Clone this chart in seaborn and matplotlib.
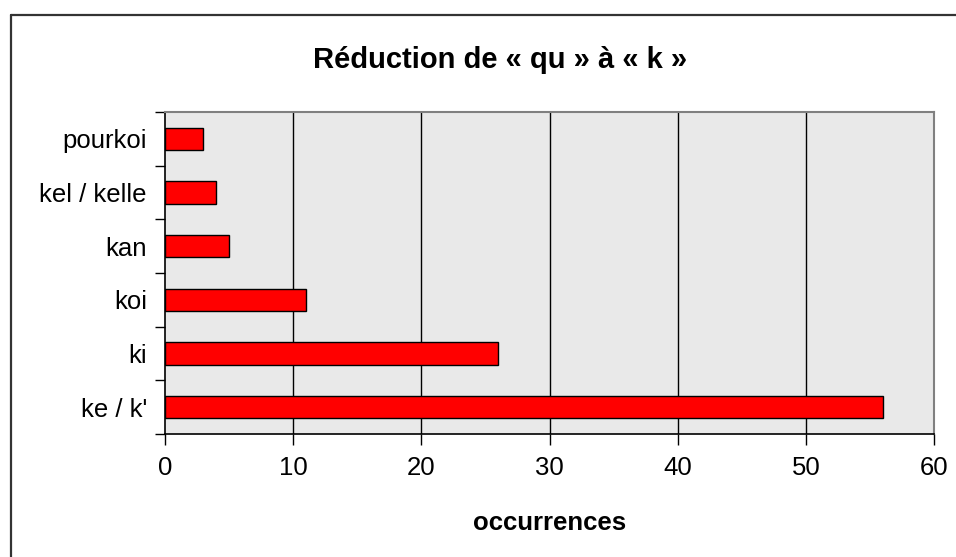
import matplotlib
matplotlib.use("Agg")
import matplotlib.pyplot as plt
import seaborn as sns
import pandas as pd
from matplotlib.lines import Line2D
from matplotlib.ticker import FixedLocator

# ----------------------------------------------------------
# DATA
# ----------------------------------------------------------
forms = ["pourkoi", "kel / kelle", "kan", "koi", "ki", "ke / k'"]
occurrences = [3, 4, 5, 11, 26, 56]
x_ticks = [0, 10, 20, 30, 40, 50, 60]

df = pd.DataFrame({"form": forms, "occurrences": occurrences})

# ----------------------------------------------------------
# STYLE
# ----------------------------------------------------------
sns.set_style("white")
plt.rcParams["font.family"] = ["Liberation Sans", "DejaVu Sans"]
plt.rcParams["text.color"] = "black"
plt.rcParams["axes.labelcolor"] = "black"
plt.rcParams["xtick.color"] = "black"
plt.rcParams["ytick.color"] = "black"

fig = plt.figure(figsize=(9.56, 5.57), dpi=100)
ax = fig.add_axes([165 / 956, 1 - 434 / 557, (934 - 165) / 956, (434 - 112) / 557])
ax.set_facecolor("#e9e9e9")

sns.barplot(
    data=df,
    x="occurrences",
    y="form",
    orient="h",
    color="#ff0000",
    edgecolor="black",
    linewidth=1.0,
    width=0.42,
    saturation=1,
    ax=ax,
)

# ----------------------------------------------------------
# AXES
# ----------------------------------------------------------
ax.set_xlim(0, 60)
ax.set_ylim(len(forms) - 0.5, -0.5)
ax.set_xticks(x_ticks)
ax.set_xticklabels([str(t) for t in x_ticks])
ax.tick_params(axis="x", direction="out", length=8, width=1,
               pad=8, labelsize=18.5, bottom=True)
ax.tick_params(axis="y", which="major", length=0, pad=13, labelsize=18.5)
ax.yaxis.set_minor_locator(FixedLocator([i + 0.5 for i in range(-1, len(forms))]))
ax.tick_params(axis="y", which="minor", direction="out", length=7, width=1,
               left=True)

for xv in x_ticks[1:-1]:
    ax.axvline(xv, color="black", linewidth=1.0, zorder=0.5)

for side in ["left", "bottom"]:
    ax.spines[side].set_color("black")
    ax.spines[side].set_linewidth(1.2)
for side in ["top", "right"]:
    ax.spines[side].set_color("#808080")
    ax.spines[side].set_linewidth(1.5)

ax.set_ylabel("")
ax.set_xlabel("occurrences", fontsize=18.5, fontweight="bold", labelpad=22)

fig.text(500 / 956, 1 - 60 / 557, "Réduction de « qu » à « k »",
         fontsize=21, fontweight="bold", ha="center", va="center")

# outer chart border (only top and left visible)
fig.add_artist(Line2D([11 / 956, 1.0], [1 - 15 / 557, 1 - 15 / 557],
                      transform=fig.transFigure, color="#333333", linewidth=1.6))
fig.add_artist(Line2D([11 / 956, 11 / 956], [0.0, 1 - 15 / 557],
                      transform=fig.transFigure, color="#333333", linewidth=1.6))

fig.savefig("out.png", dpi=100)
